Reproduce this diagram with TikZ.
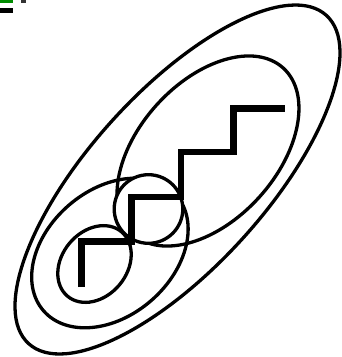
\documentclass[tikz,border=0pt]{standalone}
\begin{document}
\begin{tikzpicture}[x=1pt,y=1pt,
  ell/.style={line width=3.3pt, black},
  stairline/.style={line width=6.5pt, black, line join=miter, line cap=butt}]
\useasboundingbox (0,0) rectangle (341,-357);
\fill[white] (0,0) rectangle (341,-357);
% crop remnants at the top left corner
\fill[green!55!black] (0,0) rectangle (13,-2.8);
\fill[black] (0,-7.5) rectangle (13,-12.5);
\fill[black!80] (20.5,0) rectangle (25.5,-3);
% outer ellipse
\draw[ell, rotate around={47.8:(177.5,-179.5)}] (177.5,-179.5) ellipse (221.6 and 87.9);
% upper-right ellipse
\draw[ell, rotate around={47.8:(208,-151)}] (208,-151) ellipse (112 and 69);
% lower-left ellipse
\draw[ell, rotate around={41:(109.9,-253)}] (109.9,-253) ellipse (88 and 63);
% small ellipse
\draw[ell, rotate around={50:(94.5,-264)}] (94.5,-264) ellipse (42 and 32.5);
% circle on top
\draw[ell, fill=white] (148.5,-209) circle (34.3);
% staircase
\draw[stairline] (81.7,-287) -- (81.7,-241.7) -- (131.5,-241.7) -- (131.5,-197)
  -- (181,-197) -- (181,-152) -- (233.5,-152) -- (233.5,-108.3) -- (285,-108.3);
\end{tikzpicture}
\end{document}
